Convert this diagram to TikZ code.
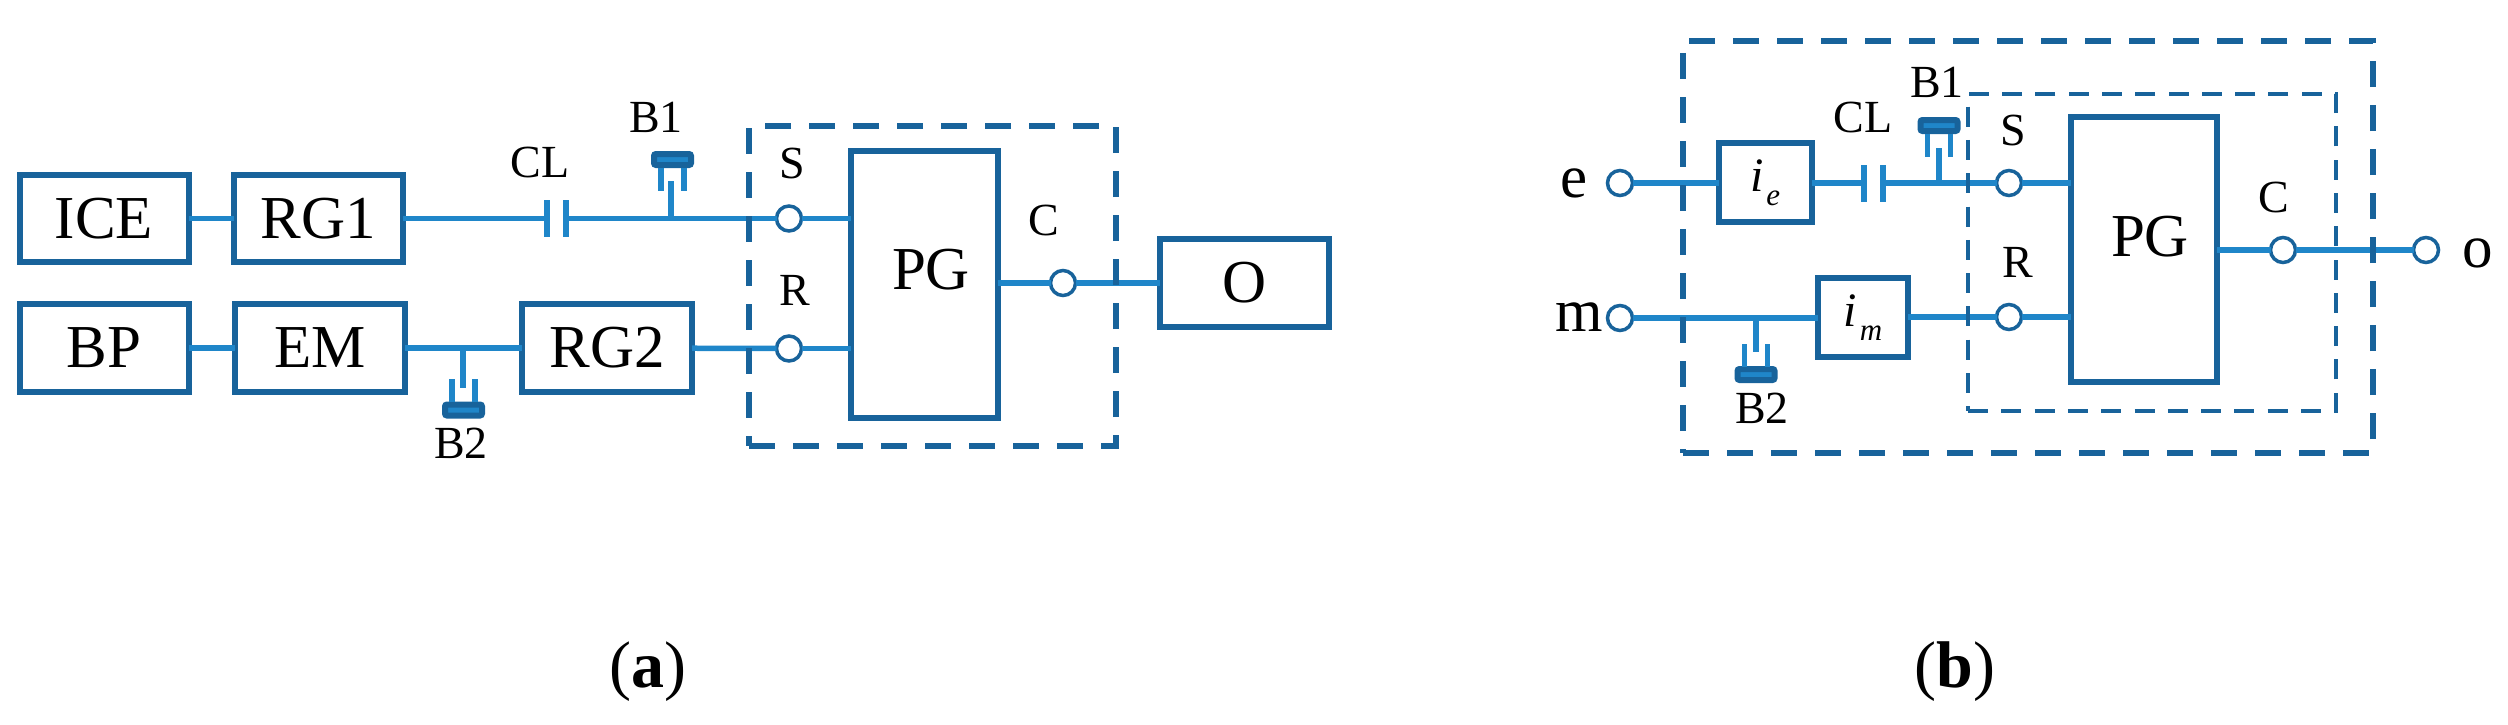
\documentclass[tikz,border=0pt]{standalone}
\usepackage{fontspec}
\setmainfont{Liberation Serif}
\definecolor{boxc}{HTML}{18639B}
\definecolor{linec}{HTML}{1F86C9}
\newcommand{\bigf}{\fontsize{61}{61}\selectfont}
\newcommand{\smallf}{\fontsize{46}{46}\selectfont}
\newcommand{\subf}{\fontsize{31}{31}\selectfont}
\newcommand{\itf}{\fontsize{48}{48}\selectfont\itshape}
\tikzset{
  blk/.style={draw=boxc,line width=6pt,inner sep=0pt,outer sep=0pt,rectangle,font=\bigf},
  txtbig/.style={inner sep=0pt,font=\bigf},
  txtsmall/.style={inner sep=0pt,font=\smallf},
  port/.style={circle,draw=boxc,line width=3.5pt,fill=white,minimum size=25pt,inner sep=0pt,outer sep=0pt},
  conn/.style={draw=linec,line width=5.5pt},
  plate/.style={fill=linec,minimum width=5.5pt,minimum height=37pt,inner sep=0pt,outer sep=0pt},
  bbody/.style={draw=boxc,line width=6pt,fill=linec,rounded corners=2pt,minimum width=37pt,minimum height=11pt,inner sep=0pt,outer sep=0pt},
  outerdash/.style={draw=boxc,line width=6pt,dash pattern=on 26pt off 18pt},
  innerdash/.style={draw=boxc,line width=4.5pt,dash pattern=on 20pt off 13.3pt},
}
% name, x, body y, prong direction (1 = prongs below the body, -1 = above)
\newcommand{\bearing}[4]{%
  \node[bbody] (#1) at (#2,#3) {};
  \coordinate (#1l) at ($(#2,#3)+(-11.5,#4*8)$);
  \coordinate (#1r) at ($(#2,#3)+(11.5,#4*8)$);
  \draw[conn] (#1l) -- ++(0,#4*23);
  \draw[conn] (#1r) -- ++(0,#4*23);
}
\usetikzlibrary{calc}
\begin{document}
\begin{tikzpicture}[x=1pt,y=-1pt]
\useasboundingbox (0,0) rectangle (2508,725);
% ---------- (a)
\node[blk,minimum width=169pt,minimum height=87pt] (ice) at (104,218.5) {ICE};
\node[blk,minimum width=169pt,minimum height=87pt] (rg1) at (318,218.5) {RG1};
\node[blk,minimum width=169pt,minimum height=88pt] (bp) at (104,348) {BP};
\node[blk,minimum width=170pt,minimum height=88pt] (em) at (320,348) {EM};
\node[blk,minimum width=170pt,minimum height=88pt] (rg2) at (607,348) {RG2};
\node[blk,minimum width=147pt,minimum height=267pt] (pga) at (924.5,284.5) {};
\node[txtbig] (pgatxt) at (931,270) {PG};
\node[blk,minimum width=169pt,minimum height=88pt] (oa) at (1244.5,283) {O};
\node[plate] (cla) at (547,218.5) {};
\node[plate] (clb) at (566,218.5) {};
\node[port] (sa) at (789,218.5) {};
\node[port] (ra) at (789,348.5) {};
\node[port] (ca) at (1063,283) {};
\node[txtsmall] (clatxt) at (540,162) {CL};
\node[txtsmall] (b1atxt) at (656,117) {B1};
\node[txtsmall] (b2atxt) at (461,443) {B2};
\node[txtsmall] (satxt) at (792,163) {S};
\node[txtsmall] (ratxt) at (795,290) {R};
\node[txtsmall] (catxt) at (1044,220) {C};
\draw[conn] (ice) -- (rg1);
\draw[conn] (rg1) -- (cla);
\draw[conn] (clb) -- (sa);
\draw[conn] (sa) -- (sa -| pga.west);
\draw[conn] (bp) -- (em);
\draw[conn] (em) -- (rg2);
\draw[conn] (rg2) -- (ra);
\draw[conn] (ra) -- (ra -| pga.west);
\draw[conn] (ca -| pga.east) -- (ca);
\draw[conn] (ca) -- (ca -| oa.west);
\bearing{b1a}{672.5}{159.5}{1}
\coordinate (b1ajoint) at (671,218.5);
\coordinate (b1atip) at (671,181);
\draw[conn] (b1ajoint) -- (b1atip);
\bearing{b2a}{463.5}{410}{-1}
\coordinate (b2ajoint) at (463,348);
\coordinate (b2atip) at (463,388);
\draw[conn] (b2ajoint) -- (b2atip);
\node[outerdash,rectangle,minimum width=367pt,minimum height=320pt,inner sep=0pt,outer sep=0pt] (sysa) at (932.5,286) {};
\node[inner sep=0pt,font=\fontsize{66}{66}\selectfont] (capa) at (648,672) {(\textbf{a})};
% ---------- (b)
\node[blk,minimum width=93pt,minimum height=79pt,font=\itf] (ie) at (1765.5,182.5) {i\kern2pt\raisebox{-14pt}{\subf e}};
\node[blk,minimum width=90pt,minimum height=79pt,font=\itf] (im) at (1863,317.5) {i\kern3pt\raisebox{-14pt}{\subf m}};
\node[blk,minimum width=146pt,minimum height=265pt] (pgb) at (2144,249.5) {};
\node[txtbig] (pgbtxt) at (2150,237) {PG};
\node[plate] (clc) at (1864,183) {};
\node[plate] (cld) at (1883,183) {};
\node[port] (e) at (1620,183) {};
\node[port] (m) at (1620,318) {};
\node[port] (sb) at (2009,183) {};
\node[port] (rb) at (2009,317) {};
\node[port] (cb) at (2283,250) {};
\node[port] (ob) at (2426,250) {};
\node[txtbig] (etxt) at (1574,183) {e};
\node[txtbig] (mtxt) at (1579,317) {m};
\node[txtbig] (otxt) at (2478,253) {o};
\node[txtsmall] (clbtxt) at (1863,117) {CL};
\node[txtsmall] (b1btxt) at (1937,82) {B1};
\node[txtsmall] (b2btxt) at (1762,408) {B2};
\node[txtsmall] (sbtxt) at (2013,130) {S};
\node[txtsmall] (rbtxt) at (2018,262) {R};
\node[txtsmall] (cbtxt) at (2274,197) {C};
\draw[conn] (e) -- (e -| ie.west);
\draw[conn] (ie.east |- clc) -- (clc);
\draw[conn] (cld) -- (sb);
\draw[conn] (sb) -- (sb -| pgb.west);
\draw[conn] (m) -- (m -| im.west);
\draw[conn] (im.east |- rb) -- (rb);
\draw[conn] (rb) -- (rb -| pgb.west);
\draw[conn] (cb -| pgb.east) -- (cb);
\draw[conn] (cb) -- (ob);
\bearing{b1b}{1939}{125.5}{1}
\coordinate (b1bjoint) at (1939,183);
\coordinate (b1btip) at (1939,148);
\draw[conn] (b1bjoint) -- (b1btip);
\bearing{b2b}{1756}{374.5}{-1}
\coordinate (b2bjoint) at (1756,318);
\coordinate (b2btip) at (1756,352);
\draw[conn] (b2bjoint) -- (b2btip);
\node[innerdash,rectangle,minimum width=368pt,minimum height=317pt,inner sep=0pt,outer sep=0pt] (sysin) at (2152,252.5) {};
\node[outerdash,rectangle,minimum width=690pt,minimum height=412pt,inner sep=0pt,outer sep=0pt] (sysb) at (2028,247) {};
\node[inner sep=0pt,font=\fontsize{66}{66}\selectfont] (capb) at (1955,672) {(\textbf{b})};
\end{tikzpicture}
\end{document}
